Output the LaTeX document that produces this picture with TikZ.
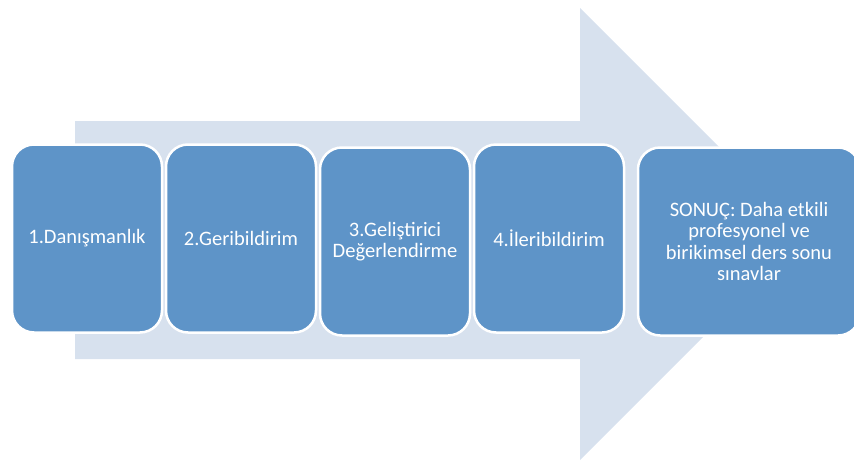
\documentclass[tikz,border=0pt]{standalone}
\usepackage{fontspec}
\setmainfont{Carlito}
\usetikzlibrary{positioning}
\definecolor{stepblue}{HTML}{5E94C8}
\definecolor{arrowblue}{HTML}{D7E1EE}
\begin{document}
\begin{tikzpicture}[x=1pt, y=-1pt, node distance={1.5pt},
		main/.style = {draw=white, line width=2.5pt, fill=stepblue, rounded corners=22pt,
			minimum width=150pt, minimum height=188pt, text=white, align=center,
			font=\fontsize{20.5}{21.5}\selectfont}]
			\clip (0,0) rectangle (854,461);
			% big arrow behind the steps
			\fill[arrowblue] (75,121) -- (580,121) -- (580,8) -- (806,234) -- (580,460) -- (580,359) -- (75,359) -- cycle;
			\node[main] (dan) at (87,238.5) {1.Danışmanlık};
			\node[main, right = of dan] (geri) {2.Geribildirim};
			\node[main, right = of geri, yshift=-3pt] (gel) {3.Geliştirici\\Değerlendirme};
			\node[main, right = of gel, yshift=3pt] (ileri) {4.İleribildirim};
			\node[main, right = 11.5pt of ileri, yshift=-3pt, minimum width=222pt] (sonuc) {SONUÇ: Daha etkili\\profesyonel ve\\birikimsel ders sonu\\sınavlar};
		\end{tikzpicture}
\end{document}
